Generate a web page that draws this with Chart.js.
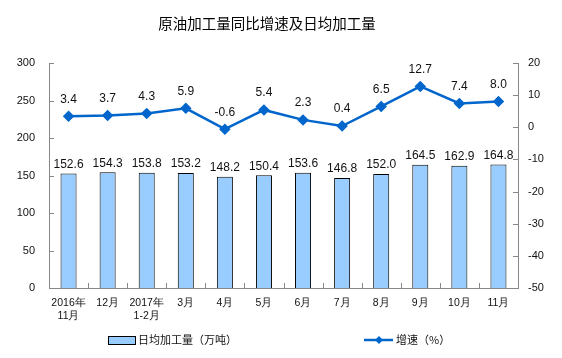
<!DOCTYPE html>
<html>
<head>
<meta charset="utf-8">
<script src="https://cdn.jsdelivr.net/npm/chart.js@4.4.0/dist/chart.umd.min.js"></script>
<style>
    body { margin: 0; background: #fff; }
    #wrap { width: 562px; height: 358px; }
</style>
</head>
<body>
<div id="wrap"><canvas id="chart" width="562" height="358"></canvas></div>
<script>
let months = [["2016年", "11月"], "12月", ["2017年", "1-2月"], "3月", "4月", "5月", "6月", "7月", "8月", "9月", "10月", "11月"];
let daily_output = [152.6, 154.3, 153.8, 153.2, 148.2, 150.4, 153.6, 146.8, 152.0, 164.5, 162.9, 164.8];
let growth_rate = [3.4, 3.7, 4.3, 5.9, -0.6, 5.4, 2.3, 0.4, 6.5, 12.7, 7.4, 8.0];
let title_text = "原油加工量同比增速及日均加工量";
let bar_label = "日均加工量（万吨）";
let line_label = "增速（%）";

const num_font = "Liberation Sans, Arial, sans-serif";
const cjk_font = "'Noto Sans CJK SC', sans-serif";
const line_color = "#0066CC";
const bar_color = "#99CCFF";

// title, value labels, inward ticks, legend
const extras = {
    id: "extras",
    afterDraw(chart) {
        let ctx = chart.ctx;
        let area = chart.chartArea;
        ctx.save();

        // title
        ctx.fillStyle = "#000";
        ctx.font = "14.5px " + cjk_font;
        ctx.textAlign = "center";
        ctx.textBaseline = "middle";
        ctx.fillText(title_text, 267, 23);

        // inward tick marks
        ctx.strokeStyle = "#888";
        ctx.lineWidth = 1;
        ctx.beginPath();
        let step = (area.right - area.left) / months.length;
        for (let i = 1; i < months.length; i++) {
            let x = Math.round(area.left + i * step) + 0.5;
            ctx.moveTo(x, area.bottom);
            ctx.lineTo(x, area.bottom - 5);
        }
        chart.scales.y.ticks.forEach(t => {
            let y = Math.round(chart.scales.y.getPixelForValue(t.value)) + 0.5;
            ctx.moveTo(area.left, y);
            ctx.lineTo(area.left + 5, y);
        });
        chart.scales.y1.ticks.forEach(t => {
            let y = Math.round(chart.scales.y1.getPixelForValue(t.value)) + 0.5;
            ctx.moveTo(area.right, y);
            ctx.lineTo(area.right - 5, y);
        });
        ctx.stroke();

        // value labels
        ctx.fillStyle = "#111";
        ctx.font = "12px " + num_font;
        ctx.textAlign = "center";
        ctx.textBaseline = "bottom";
        chart.getDatasetMeta(0).data.forEach((el, i) => {
            ctx.fillText(daily_output[i].toFixed(1), el.x, el.y - 3);
        });
        chart.getDatasetMeta(1).data.forEach((el, i) => {
            ctx.fillText(growth_rate[i].toFixed(1), el.x, el.y - 11);
        });

        // legend
        ctx.fillStyle = bar_color;
        ctx.fillRect(108, 336, 27, 8);
        ctx.strokeStyle = "#000";
        ctx.strokeRect(108.5, 336.5, 27, 8);
        ctx.strokeStyle = line_color;
        ctx.lineWidth = 2.5;
        ctx.beginPath();
        ctx.moveTo(364, 340);
        ctx.lineTo(393, 340);
        ctx.stroke();
        ctx.fillStyle = line_color;
        ctx.beginPath();
        ctx.moveTo(379, 336);
        ctx.lineTo(383, 340);
        ctx.lineTo(379, 344);
        ctx.lineTo(375, 340);
        ctx.closePath();
        ctx.fill();
        ctx.fillStyle = "#111";
        ctx.font = "11px " + cjk_font;
        ctx.textAlign = "left";
        ctx.textBaseline = "middle";
        ctx.fillText(bar_label, 138, 340);
        ctx.fillText(line_label, 396, 340);
        ctx.restore();
    }
};

document.addEventListener("DOMContentLoaded", () => {
    let ctx = document.getElementById("chart");
    new Chart(ctx, {
        type: "bar",
        data: {
            labels: months,
            datasets: [{
                label: bar_label,
                data: daily_output,
                backgroundColor: bar_color,
                borderColor: "#000",
                borderWidth: 1,
                barPercentage: 0.82,
                categoryPercentage: 0.5,
                yAxisID: "y",
                order: 1,
            }, {
                type: "line",
                label: line_label,
                data: growth_rate,
                borderColor: line_color,
                backgroundColor: line_color,
                borderWidth: 2.5,
                pointStyle: "rectRot",
                pointRadius: 4,
                tension: 0,
                yAxisID: "y1",
                order: 0,
            }]
        },
        options: {
            responsive: false,
            animation: false,
            devicePixelRatio: 1,
            layout: { padding: { top: 63, left: 0, right: 0, bottom: 0 } },
            plugins: {
                legend: { display: false },
                title: { display: false },
                tooltip: { enabled: false },
            },
            scales: {
                x: {
                    grid: { display: false, drawTicks: false },
                    border: { color: "#888" },
                    ticks: {
                        color: "#111",
                        font: { size: 10.5, family: num_font },
                        padding: 9,
                        maxRotation: 0,
                        autoSkip: false,
                    },
                    afterFit: (s) => { s.height = 70; },
                },
                y: {
                    position: "left",
                    min: 0,
                    max: 300,
                    grid: { display: false, drawTicks: false },
                    border: { color: "#888" },
                    ticks: {
                        stepSize: 50,
                        color: "#111",
                        font: { size: 11, family: num_font },
                        padding: 14,
                    },
                    afterFit: (s) => { s.width = 49; },
                },
                y1: {
                    position: "right",
                    min: -50,
                    max: 20,
                    grid: { display: false, drawTicks: false },
                    border: { color: "#888" },
                    ticks: {
                        stepSize: 10,
                        color: "#111",
                        font: { size: 11, family: num_font },
                        padding: 10,
                    },
                    afterFit: (s) => { s.width = 44; },
                },
            },
        },
        plugins: [extras],
    });
});
</script>
</body>
</html>
